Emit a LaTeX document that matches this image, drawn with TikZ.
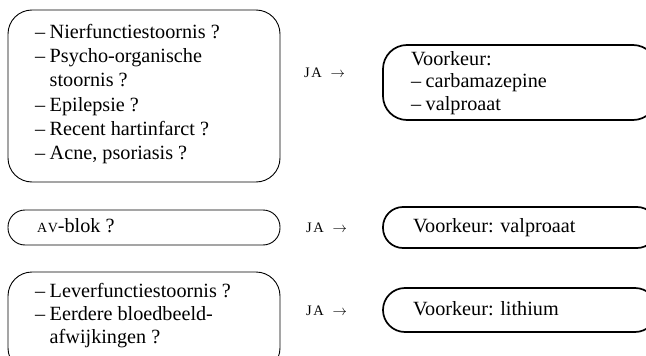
\documentclass[tikz,border=0pt]{standalone}
\usepackage{fontspec}
\setmainfont{Liberation Serif}
\tikzset{
  qbox/.style={draw, line width=0.9pt, rounded corners=24pt, inner sep=0pt},
  abox/.style={draw, line width=1.7pt, rounded corners=24pt, inner sep=0pt},
  txt/.style={anchor=base west, inner sep=0pt, font=\fontsize{20.2}{24.4}\selectfont},
  ja/.style={anchor=base west, inner sep=0pt, font=\fontsize{14.5}{16}\selectfont}
}
\newcommand{\dsh}{–\hspace{0.22em}}
\newcommand{\lines}[2]{\fontsize{20.2}{#1}\selectfont\begin{tabular}[t]{@{}l@{}}#2\end{tabular}}
\newcommand{\jaarrow}{J\kern1.5pt A\hspace{0.6em}$\rightarrow$}
\begin{document}
\begin{tikzpicture}[x=1pt,y=-1pt]
\useasboundingbox (0,0) rectangle (646,356);
\clip (0,0) rectangle (646,356);
% left question boxes
\node[qbox, minimum width=272pt, minimum height=172pt] (q1) at (144,96) {};
\node[qbox, minimum width=272pt, minimum height=35pt, rounded corners=17pt] (q2) at (144,227.5) {};
\node[qbox, minimum width=272pt, minimum height=100pt] (q3) at (144,322) {};
% right answer boxes
\node[abox, minimum width=274pt, minimum height=75pt] (a1) at (520,82.5) {};
\node[abox, minimum width=274pt, minimum height=41pt, rounded corners=20pt] (a2) at (520,227.5) {};
\node[abox, minimum width=274pt, minimum height=44pt, rounded corners=22pt] (a3) at (520,310) {};
% texts
\node[txt] (t1) at (35,38) {\lines{24.4pt}{\dsh Nierfunctiestoornis ?\\
\dsh Psycho-organische\\
\phantom{\dsh}stoornis ?\\
\dsh Epilepsie ?\\
\dsh Recent hartinfarct ?\\
\dsh Acne, psoriasis ?}};
\node[txt] (t2) at (37,232) {{\fontsize{14}{16}\selectfont A\kern0.5pt V}-blok ?};
\node[txt] (t3) at (35,297) {\lines{23.2pt}{\dsh Leverfunctiestoornis ?\\
\dsh Eerdere bloedbeeld-\\
\phantom{\dsh}afwijkingen ?}};
\node[txt] (r1) at (411,65) {\lines{22.6pt}{Voorkeur:\\
\dsh carbamazepine\\
\dsh valproaat}};
\node[txt] (r2) at (413,232) {Voorkeur: valproaat};
\node[txt] (r3) at (413,315) {Voorkeur: lithium};
% JA arrows
\node[ja] (j1) at (304,77) {\jaarrow};
\node[ja] (j2) at (306,232) {\jaarrow};
\node[ja] (j3) at (306,315) {\jaarrow};
\end{tikzpicture}
\end{document}
